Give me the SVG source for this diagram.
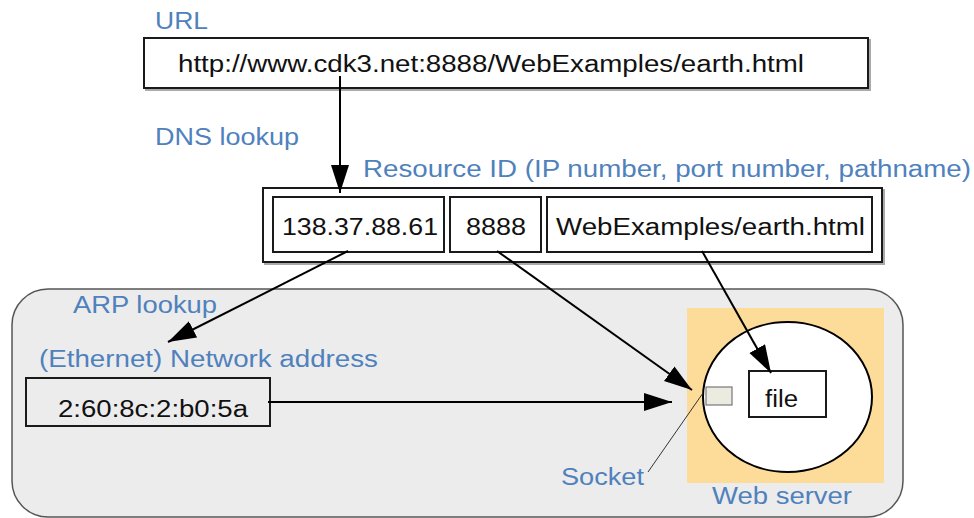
<svg xmlns="http://www.w3.org/2000/svg" width="974" height="518" viewBox="0 0 974 518">
<defs>
<style>
.lbl{font-family:"Liberation Sans",Arial,sans-serif;font-size:23px;fill:#4f81bd}
.txt{font-family:"Liberation Sans",Arial,sans-serif;font-size:23px;fill:#111}
.box{fill:#fff;stroke:#1a1a1a;stroke-width:2}
.shadow{fill:none;stroke:#aaa;stroke-width:2}
.conn{stroke:#000;stroke-width:2;fill:none}
</style>
<marker id="ah" markerUnits="userSpaceOnUse" markerWidth="30" markerHeight="20" refX="28" refY="9" orient="auto">
<path d="M0,0 L28,9 L0,18 z" fill="#000"/>
</marker>
</defs>
<rect width="974" height="518" fill="#fff"/>

<g id="network">
<rect x="12" y="289" width="891" height="228" rx="36" ry="36" fill="#ececec" stroke="#555" stroke-width="1.5"/>
<text class="lbl" x="73" y="313" textLength="144" lengthAdjust="spacingAndGlyphs">ARP lookup</text>
<text class="lbl" x="39" y="367" textLength="339" lengthAdjust="spacingAndGlyphs">(Ethernet) Network address</text>
</g>

<g id="url">
<text class="lbl" x="155" y="29" textLength="53" lengthAdjust="spacingAndGlyphs">URL</text>
<rect class="shadow" x="146" y="40" width="724" height="50"/>
<rect class="box" x="144" y="38" width="724" height="50"/>
<text class="txt" x="178" y="72" textLength="626" lengthAdjust="spacingAndGlyphs">http://www.cdk3.net:8888/WebExamples/earth.html</text>
</g>

<text class="lbl" x="155" y="145" textLength="144" lengthAdjust="spacingAndGlyphs">DNS lookup</text>

<g id="resource-id">
<text class="lbl" x="363" y="177" textLength="608" lengthAdjust="spacingAndGlyphs">Resource ID (IP number, port number, pathname)</text>
<rect class="shadow" x="265" y="190" width="619" height="74"/>
<rect class="box" x="263" y="188" width="619" height="74"/>
</g>

<g id="ip">
<rect class="box" x="273" y="197" width="171" height="55"/>
<text class="txt" x="282" y="235" textLength="156" lengthAdjust="spacingAndGlyphs">138.37.88.61</text>
</g>
<g id="port">
<rect class="box" x="450" y="197" width="91" height="55"/>
<text class="txt" x="466" y="235" textLength="60" lengthAdjust="spacingAndGlyphs">8888</text>
</g>
<g id="path">
<rect class="box" x="547" y="197" width="325" height="55"/>
<text class="txt" x="556" y="235" textLength="309" lengthAdjust="spacingAndGlyphs">WebExamples/earth.html</text>
</g>

<g id="ethernet">
<rect class="box" x="26" y="378" width="244" height="48" style="fill:#ececec"/>
<text class="txt" x="58" y="417" textLength="190" lengthAdjust="spacingAndGlyphs">2:60:8c:2:b0:5a</text>
</g>

<g id="web-server">
<rect x="687" y="308" width="197" height="175" fill="#fddb98"/>
<ellipse cx="787.5" cy="397" rx="84.5" ry="75" fill="#fff" stroke="#000" stroke-width="2"/>
<text class="lbl" x="712" y="504" textLength="140" lengthAdjust="spacingAndGlyphs">Web server</text>
</g>

<g id="socket">
<rect x="706" y="387" width="26" height="18" fill="#ecebe0" stroke="#777" stroke-width="1.2"/>
<text class="lbl" x="561" y="485" textLength="83" lengthAdjust="spacingAndGlyphs">Socket</text>
</g>

<g id="file">
<rect class="box" x="749" y="371" width="77" height="46"/>
<text class="txt" x="765" y="407" textLength="33" lengthAdjust="spacingAndGlyphs">file</text>
</g>

<g id="connectors">
<line class="conn" x1="340" y1="76" x2="340" y2="193" marker-end="url(#ah)"/>
<line class="conn" x1="348" y1="251" x2="168" y2="342" marker-end="url(#ah)"/>
<line class="conn" x1="497" y1="251" x2="692" y2="390" marker-end="url(#ah)"/>
<line class="conn" x1="702" y1="251" x2="771" y2="373" marker-end="url(#ah)"/>
<line class="conn" x1="268" y1="402" x2="672" y2="402" marker-end="url(#ah)"/>
<line x1="648" y1="472" x2="703" y2="393" stroke="#333" stroke-width="1"/>
</g>
</svg>
